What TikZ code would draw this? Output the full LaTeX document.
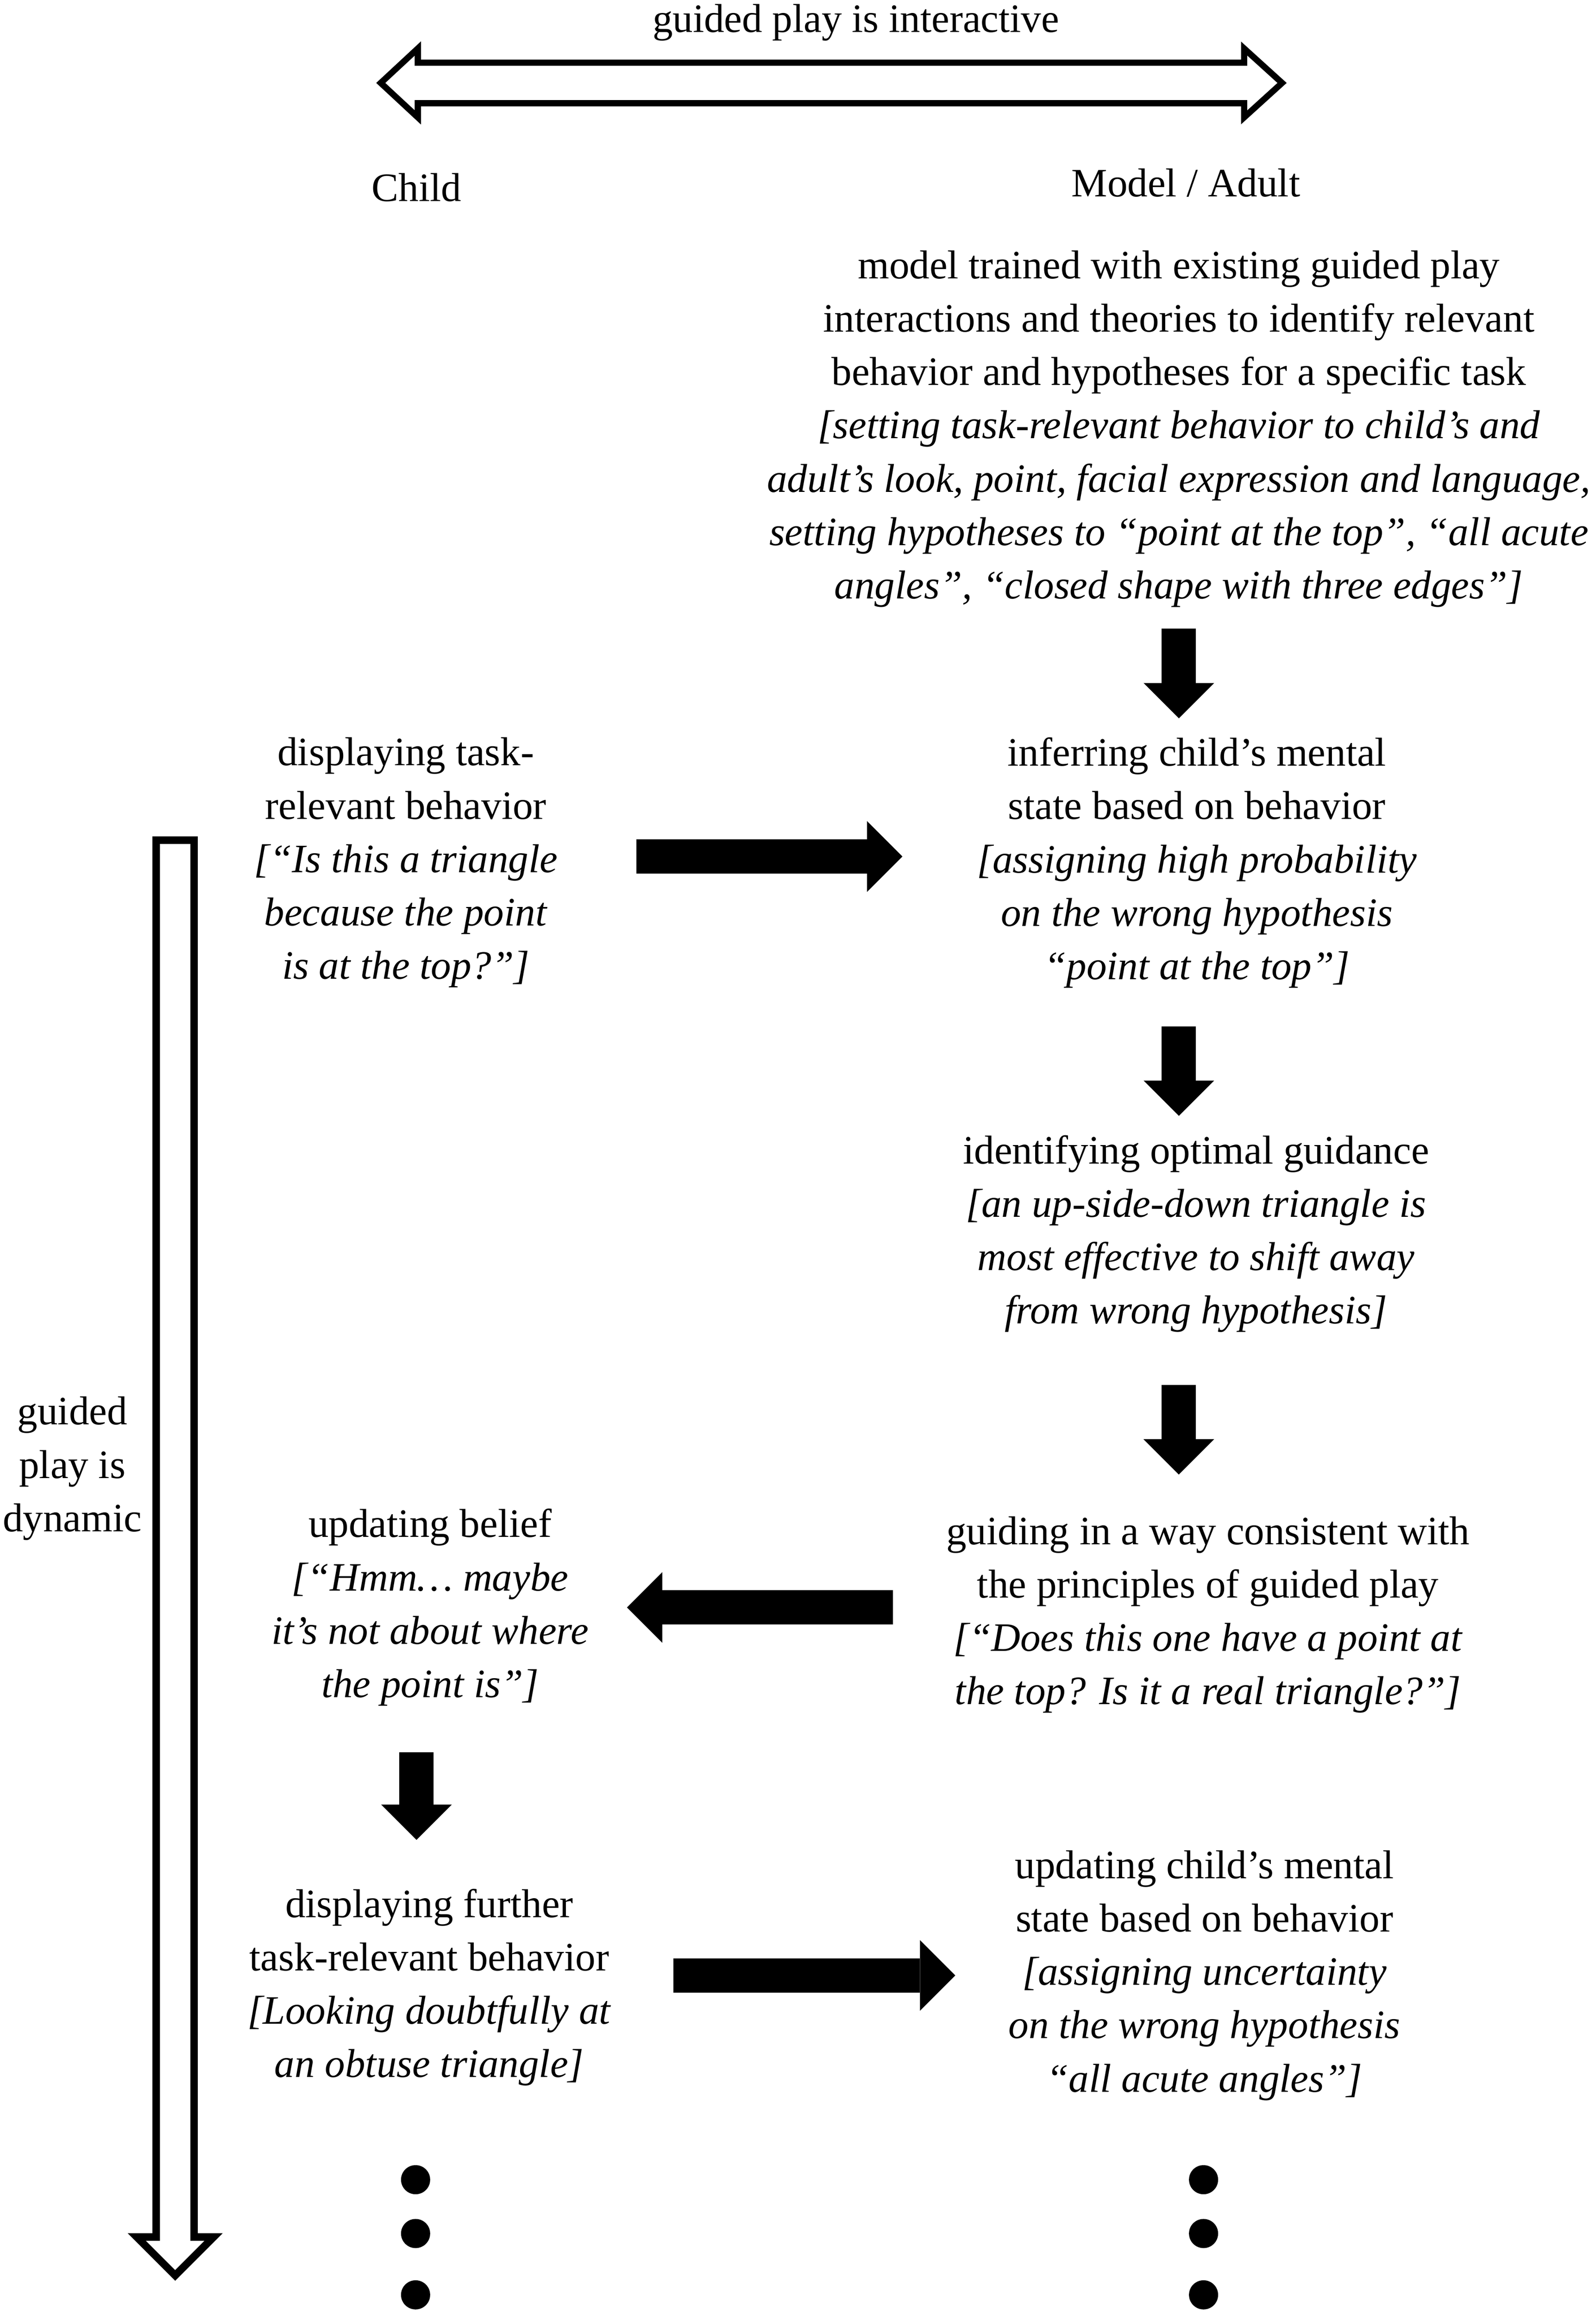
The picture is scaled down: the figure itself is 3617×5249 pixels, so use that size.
\documentclass[tikz,border=0pt]{standalone}
\usepackage{fontspec}
\setmainfont{Liberation Serif}
\usetikzlibrary{arrows.meta}

\begin{document}
\begin{tikzpicture}[
  x=0.01cm, y=-0.01cm,
  font=\fontsize{26pt}{34.4pt}\selectfont,
  txt/.style={align=center, inner sep=0pt, anchor=north},
  lbl/.style={inner sep=0pt, anchor=base},
  flow/.style={line width=0.78cm, -{Triangle[length=0.8cm, width=1.6cm, line width=0pt]}},
  hollow/.style={line width=0.14cm, line join=miter},
  dot/.style={circle, fill, minimum size=0.66cm, inner sep=0pt}
]

\useasboundingbox (0,0) rectangle (3617,5249);

%======================
% TOP: INTERACTIVE ARROW
%======================

\node[lbl] (inter) at (1940,73) {guided play is interactive};
\draw[hollow] (863,188) -- (947,110) -- (947,142) -- (2820,142) -- (2820,110)
  -- (2906,188) -- (2820,266) -- (2820,234) -- (947,234) -- (947,266) -- cycle;

\node[lbl] (child) at (944,456) {Child};
\node[lbl] (adult) at (2688,446) {Model / Adult};

%======================
% RIGHT COLUMN (MODEL / ADULT)
%======================

\node[txt] (model) at (2672,567) {model trained with existing guided play\\
  interactions and theories to identify relevant\\
  behavior and hypotheses for a specific task\\
  \textit{[setting task-relevant behavior to child’s and}\\
  \textit{adult’s look, point, facial expression and language,}\\
  \textit{setting hypotheses to “point at the top”, “all acute}\\
  \textit{angles”, “closed shape with three edges”]}};

\node[txt] (infer) at (2713,1671) {inferring child’s mental\\
  state based on behavior\\
  \textit{[assigning high probability}\\
  \textit{on the wrong hypothesis}\\
  \textit{“point at the top”]}};

\node[txt] (guidance) at (2711,2572) {identifying optimal guidance\\
  \textit{[an up-side-down triangle is}\\
  \textit{most effective to shift away}\\
  \textit{from wrong hypothesis]}};

\node[txt] (guiding) at (2738,3436) {guiding in a way consistent with\\
  the principles of guided play\\
  \textit{[“Does this one have a point at}\\
  \textit{the top? Is it a real triangle?”]}};

\node[txt] (update) at (2730,4193) {updating child’s mental\\
  state based on behavior\\
  \textit{[assigning uncertainty}\\
  \textit{on the wrong hypothesis}\\
  \textit{“all acute angles”]}};

%======================
% LEFT COLUMN (CHILD)
%======================

\node[txt] (disptask) at (920,1671) {displaying task-\\
  relevant behavior\\
  \textit{[“Is this a triangle}\\
  \textit{because the point}\\
  \textit{is at the top?”]}};

\node[txt] (belief) at (975,3419) {updating belief\\
  \textit{[“Hmm… maybe}\\
  \textit{it’s not about where}\\
  \textit{the point is”]}};

\node[txt] (further) at (973,4280) {displaying further\\
  task-relevant behavior\\
  \textit{[Looking doubtfully at}\\
  \textit{an obtuse triangle]}};

\node[txt] (dynamic) at (164,3165) {guided\\ play is\\ dynamic};

% dynamic arrow
\draw[hollow, line width=0.17cm] (354,1904) -- (440,1904) -- (440,5070) -- (484,5070)
  -- (397,5157) -- (310,5070) -- (354,5070) -- cycle;

%======================
% FLOW ARROWS
%======================

% model side, downwards
\draw[flow, shorten <=0.47cm, shorten >=0.43cm] (model.south) -- (model.south |- infer.north);
\draw[flow, shorten <=0.86cm, shorten >=0.43cm] (model.south |- infer.south) -- (model.south |- guidance.north);
\draw[flow, shorten <=1.18cm, shorten >=0.94cm] (model.south |- guidance.south) -- (model.south |- guiding.north);

% child side, downwards
\draw[flow, shorten <=1.04cm, shorten >=1.1cm] (child |- belief.south) -- (child |- further.north);

% across
\draw[flow, shorten <=1.77cm, shorten >=1.68cm] ([yshift=0.14cm]disptask.east) -- ([yshift=0.14cm]disptask.east -| infer.west);
\draw[flow, shorten <=1.2cm, shorten >=0.86cm] (guiding.west |- belief.east) -- (belief.east);
\draw[flow, shorten <=1.4cm, shorten >=1.2cm] (further.east |- update.west) -- (update.west);

% continuation dots
\foreach \y [count=\i] in {4940,5062,5201} {
  \node[dot] (ldot\i) at (942,\y) {};
  \node[dot] (rdot\i) at (2728,\y) {};
}

\end{tikzpicture}
\end{document}
